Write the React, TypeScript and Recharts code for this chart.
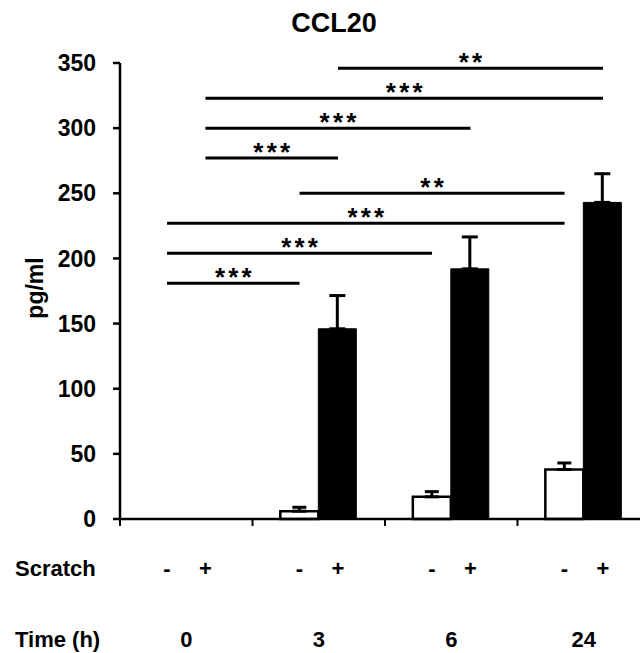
import React from 'react';
import { BarChart, Bar, XAxis, YAxis, ErrorBar, ReferenceLine } from 'recharts';

// ---- data ----
const timeGroups = ['0', '3', '6', '24'];
const scratchMinus = [0, 6, 17, 38];
const scratchMinusErr = [0, 3, 4, 5];
const scratchPlus = [0, 146, 192, 243];
const scratchPlusErr = [0, 25.5, 24.5, 22];
const yTicks = [0, 50, 100, 150, 200, 250, 300, 350];
const sigFrom = [
  ['0', '-'], ['0', '-'], ['0', '-'], ['3', '-'],
  ['0', '+'], ['0', '+'], ['0', '+'], ['3', '+'],
];
const sigTo = [
  ['3', '-'], ['6', '-'], ['24', '-'], ['24', '-'],
  ['3', '+'], ['6', '+'], ['24', '+'], ['24', '+'],
];
const sigLevel = [181, 204, 227, 250, 277, 300, 323, 346];
const sigLabel = ['***', '***', '***', '**', '***', '***', '***', '**'];

// ---- layout constants ----
const CHART_W = 660;
const CHART_H = 653;
const MARGIN = { top: 63, right: 10, bottom: 0, left: 0 };
const Y_AXIS_W = 120;
const GAP = 0.21;
const FONT = '"Liberation Sans", Arial, sans-serif';

const plotW = CHART_W - MARGIN.left - MARGIN.right - Y_AXIS_W;
const band = plotW / timeGroups.length;
const barOffsetPx = (band * (1 - 2 * GAP)) / 4;
const condDir = (c: string) => (c === '-' ? -1 : 1);

const data = timeGroups.map((t, i) => ({
  time: t,
  minus: scratchMinus[i],
  minusErr: [0, scratchMinusErr[i]],
  plus: scratchPlus[i],
  plusErr: [0, scratchPlusErr[i]],
}));

const CatTick = (props: any) => {
  const { x, y, payload, index } = props;
  const style = { fontFamily: FONT, fontWeight: 700, fontSize: 22, fill: '#000' } as any;
  const left = x - band / 2;
  return (
    <g>
      <line x1={left} x2={left} y1={y} y2={y + 7} stroke="#000" strokeWidth={2} />
      {index === timeGroups.length - 1 && (
        <line x1={x + band / 2} x2={x + band / 2} y1={y} y2={y + 7} stroke="#000" strokeWidth={2} />
      )}
      {index === 0 && (
        <>
          <text x={15} y={y + 57} textAnchor="start" {...style}>Scratch</text>
          <text x={15} y={y + 128} textAnchor="start" {...style}>Time (h)</text>
        </>
      )}
      <text x={x - barOffsetPx} y={y + 57} textAnchor="middle" {...style}>-</text>
      <text x={x + barOffsetPx} y={y + 57} textAnchor="middle" {...style}>+</text>
      <text x={x} y={y + 128} textAnchor="middle" {...style}>{payload.value}</text>
    </g>
  );
};

const YLabel = (props: any) => {
  const vb = props.viewBox || { x: 0, y: 63, width: 120, height: 456 };
  const cx = 43;
  const cy = vb.y + vb.height / 2 - 3;
  return (
    <text
      x={cx}
      y={cy}
      transform={`rotate(-90, ${cx}, ${cy})`}
      textAnchor="middle"
      fontFamily={FONT}
      fontWeight={700}
      fontSize={23}
      fill="#000"
    >
      pg/ml
    </text>
  );
};

const makeSigShape = (fromC: string, toC: string, text: string) => (p: any) => {
  const x1 = p.x1 + condDir(fromC) * barOffsetPx;
  const x2 = p.x2 + condDir(toC) * barOffsetPx;
  const y = p.y1;
  return (
    <g>
      <line x1={x1} x2={x2} y1={y} y2={y} stroke="#000" strokeWidth={3} />
      <text
        x={(x1 + x2) / 2 + 1.6}
        y={y + 3}
        textAnchor="middle"
        fontFamily={FONT}
        fontWeight={700}
        fontSize={26}
        letterSpacing={3.2}
        fill="#000"
      >
        {text}
      </text>
    </g>
  );
};

export default function App() {
  return (
    <div style={{ position: 'relative', width: 640, height: 653, overflow: 'hidden', background: '#fff' }}>
      <style>{'body{margin:0;overflow:hidden;}'}</style>
      <div
        style={{
          position: 'absolute',
          left: 234,
          width: 200,
          top: 10,
          textAlign: 'center',
          fontFamily: FONT,
          fontWeight: 700,
          fontSize: 27,
          lineHeight: '27px',
          color: '#000',
          zIndex: 2,
        }}
      >
        CCL20
      </div>
      <BarChart
        width={CHART_W}
        height={CHART_H}
        data={data}
        margin={MARGIN}
        barCategoryGap={`${GAP * 100}%`}
        barGap={0}
      >
        <XAxis
          dataKey="time"
          type="category"
          height={134}
          axisLine={{ stroke: '#000', strokeWidth: 2.5 }}
          tickLine={false}
          tickSize={0}
          tickMargin={0}
          interval={0}
          tick={<CatTick />}
        />
        <YAxis
          width={Y_AXIS_W}
          domain={[0, 350]}
          ticks={yTicks}
          interval={0}
          tickSize={7}
          tickMargin={17}
          axisLine={{ stroke: '#000', strokeWidth: 2.5 }}
          tickLine={{ stroke: '#000', strokeWidth: 2.5 }}
          tick={{ fontFamily: FONT, fontWeight: 700, fontSize: 23, fill: '#000' }}
          label={<YLabel />}
        />
        <Bar dataKey="minus" fill="#fff" stroke="#000" strokeWidth={2.5} isAnimationActive={false}>
          <ErrorBar dataKey="minusErr" direction="y" width={7} stroke="#000" strokeWidth={3} />
        </Bar>
        <Bar dataKey="plus" fill="#000" stroke="#000" strokeWidth={1} isAnimationActive={false}>
          <ErrorBar dataKey="plusErr" direction="y" width={8} stroke="#000" strokeWidth={3} />
        </Bar>
        {sigLevel.map((lvl, i) => (
          <ReferenceLine
            key={i}
            segment={[
              { x: sigFrom[i][0], y: lvl },
              { x: sigTo[i][0], y: lvl },
            ]}
            stroke="#000"
            strokeWidth={3}
            ifOverflow="visible"
            shape={makeSigShape(sigFrom[i][1], sigTo[i][1], sigLabel[i])}
          />
        ))}
      </BarChart>
    </div>
  );
}
